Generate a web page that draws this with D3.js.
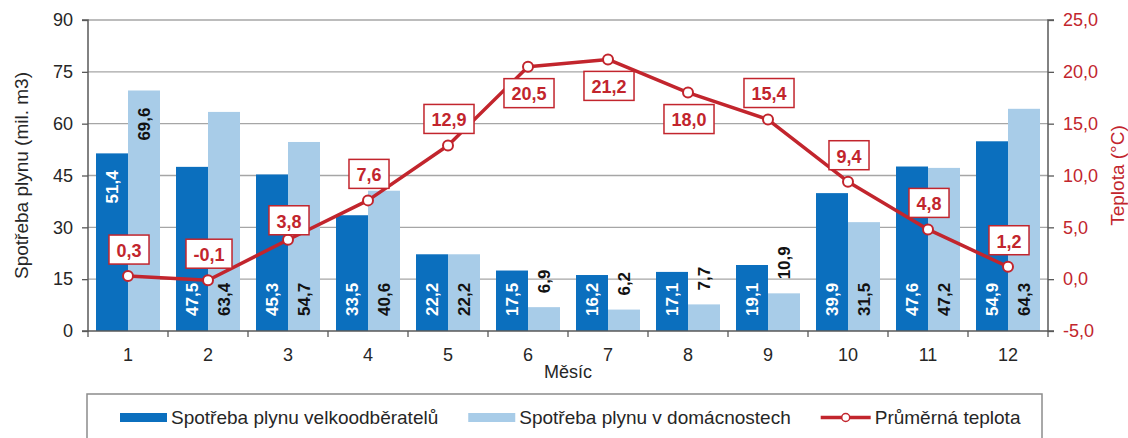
<!DOCTYPE html>
<html>
<head>
<meta charset="utf-8">
<script src="https://cdn.jsdelivr.net/npm/d3@7"></script>
<style>
  html, body { margin: 0; padding: 0; background: #fff; }
  svg { display: block; font-family: "Liberation Sans", Arial, sans-serif; }
</style>
</head>
<body>
<svg id="chart" width="1128" height="438"></svg>
<script>
// ---- data ----
const months = ["1", "2", "3", "4", "5", "6", "7", "8", "9", "10", "11", "12"];
const bulkGas = [51.4, 47.5, 45.3, 33.5, 22.2, 17.5, 16.2, 17.1, 19.1, 39.9, 47.6, 54.9];
const householdGas = [69.6, 63.4, 54.7, 40.6, 22.2, 6.9, 6.2, 7.7, 10.9, 31.5, 47.2, 64.3];
const avgTemp = [0.3, -0.1, 3.8, 7.6, 12.9, 20.5, 21.2, 18.0, 15.4, 9.4, 4.8, 1.2];
const gasTicks = [0, 15, 30, 45, 60, 75, 90];
const tempTicks = [-5, 0, 5, 10, 15, 20, 25];
const seriesNames = ["Spotřeba plynu velkoodběratelů", "Spotřeba plynu v domácnostech", "Průměrná teplota"];
const yTitle = "Spotřeba plynu (mil. m3)";
const y2Title = "Teplota (°C)";
const xTitle = "Měsíc";

// ---- styles ----
const C_DARK = "#0B6FBE";
const C_LIGHT = "#A8CCE8";
const C_RED = "#C2252D";
const C_GRID = "#A6A6A6";
const C_AXIS = "#595959";
const FONT = "'Liberation Sans', Arial, sans-serif";

const W = 1128, H = 438;
const m = { left: 88, right: 80, top: 20, bottom: 107 };
const plotL = m.left, plotR = W - m.right, plotT = m.top, plotB = H - m.bottom;

const svg = d3.select("#chart");
const fmt = v => d3.format(".1f")(v).replace(".", ",").replace("\u2212", "-");
const fmt0 = v => d3.format("d")(v);

const x = d3.scaleBand().domain(months).range([plotL, plotR]).paddingInner(0.2).paddingOuter(0.1);
const xs = d3.scaleBand().domain([0, 1]).range([0, x.bandwidth()]);
const y = d3.scaleLinear().domain([0, 90]).range([plotB, plotT]);
const y2 = d3.scaleLinear().domain([-5, 25]).range([plotB, plotT]);
const cx = mo => x(mo) + x.bandwidth() / 2;

// gridlines
svg.append("g").selectAll("line").data(gasTicks.filter(t => t > 0)).join("line")
  .attr("x1", plotL).attr("x2", plotR)
  .attr("y1", d => y(d)).attr("y2", d => y(d))
  .attr("stroke", C_GRID).attr("stroke-width", 1.3);

// bars
const series = [bulkGas, householdGas];
const colors = [C_DARK, C_LIGHT];
series.forEach((vals, si) => {
  svg.append("g").selectAll("rect").data(months).join("rect")
    .attr("x", (mo) => x(mo) + xs(si))
    .attr("width", xs.bandwidth())
    .attr("y", (mo, i) => y(vals[i]))
    .attr("height", (mo, i) => plotB - y(vals[i]))
    .attr("fill", colors[si]);
});

// bar labels (rotated)
series.forEach((vals, si) => {
  svg.append("g").selectAll("text").data(months).join("text")
    .attr("transform", (mo, i) => {
      const px = x(mo) + xs(si) + xs.bandwidth() / 2;
      const v = vals[i];
      let py;
      if (v < 12) { py = y(v) - 14; }          // outside end
      else if (i === 0) { py = y(v) + 17; }    // inside end
      else { py = plotB - 15; }                // inside base
      return `translate(${px},${py}) rotate(-90)`;
    })
    .attr("text-anchor", (mo, i) => (vals[i] >= 12 && i === 0) ? "end" : "start")
    .attr("dy", "0.35em")
    .attr("font-size", 17).attr("font-weight", "bold")
    .attr("fill", si === 0 ? "#ffffff" : "#111111")
    .text((mo, i) => fmt(vals[i]));
});

// axes
const axL = svg.append("g").attr("transform", `translate(${plotL},0)`)
  .call(d3.axisLeft(y).tickValues(gasTicks).tickSize(6).tickPadding(9).tickFormat(fmt0));
const axR = svg.append("g").attr("transform", `translate(${plotR},0)`)
  .call(d3.axisRight(y2).tickValues(tempTicks).tickSize(6).tickPadding(9).tickFormat(fmt));
const axB = svg.append("g").attr("transform", `translate(0,${plotB})`)
  .call(d3.axisBottom(x).tickSize(0).tickPadding(17));
// bottom ticks at band boundaries
svg.append("g").selectAll("line").data(d3.range(months.length + 1)).join("line")
  .attr("x1", i => plotL + i * x.step()).attr("x2", i => plotL + i * x.step())
  .attr("y1", plotB).attr("y2", plotB + 6)
  .attr("stroke", C_AXIS).attr("stroke-width", 1.3);

[axL, axR, axB].forEach(a => {
  a.select(".domain").attr("stroke", C_AXIS).attr("stroke-width", 1.5);
  a.selectAll(".tick line").attr("stroke", C_AXIS).attr("stroke-width", 1.3);
  a.selectAll("text").attr("font-size", 18).attr("font-family", FONT).attr("fill", "#262626");
});
axB.select(".domain").attr("d", `M${plotL},0H${plotR}`);
axL.select(".domain").attr("d", `M-6,${plotB}H0V${plotT}H-6`);
axR.select(".domain").attr("d", `M6,${plotB}H0V${plotT}H6`);
axR.selectAll("text").attr("fill", C_RED);

// temperature line
const pts = months.map((mo, i) => [cx(mo), y2(avgTemp[i])]);
svg.append("path").attr("d", d3.line()(pts))
  .attr("fill", "none").attr("stroke", C_RED).attr("stroke-width", 3.5).attr("stroke-linejoin", "round");
svg.append("g").selectAll("circle").data(pts).join("circle")
  .attr("cx", d => d[0]).attr("cy", d => d[1]).attr("r", 5)
  .attr("fill", "#fff").attr("stroke", C_RED).attr("stroke-width", 2);

// temperature labels
const below = new Set(["6", "7", "8"]);
const lblG = svg.append("g");
months.forEach((mo, i) => {
  const g = lblG.append("g");
  const t = g.append("text").attr("font-size", 18).attr("font-weight", "bold")
    .attr("fill", C_RED).attr("text-anchor", "middle").attr("dy", "0.35em").text(fmt(avgTemp[i]));
  const tw = t.node().getComputedTextLength();
  const bw = tw + 15, bh = 29;
  const px = cx(mo) + 1, py = y2(avgTemp[i]);
  const gap = (mo === "3") ? 5 : 12;
  const by = below.has(mo) ? py + gap : py - gap - bh;
  g.insert("rect", "text").attr("x", px - bw / 2).attr("y", by).attr("width", bw).attr("height", bh)
    .attr("fill", "#fff").attr("stroke", C_RED).attr("stroke-width", 1.5);
  t.attr("x", px).attr("y", by + bh / 2 + 1);
});

// axis titles
svg.append("text").attr("transform", `translate(21,${(plotT + plotB) / 2}) rotate(-90)`)
  .attr("text-anchor", "middle").attr("dy", "0.35em").attr("font-size", 19).attr("fill", "#262626").text(yTitle);
svg.append("text").attr("transform", `translate(1117,${(plotT + plotB) / 2}) rotate(-90)`)
  .attr("text-anchor", "middle").attr("dy", "0.35em").attr("font-size", 19).attr("fill", C_RED).text(y2Title);
svg.append("text").attr("x", (plotL + plotR) / 2).attr("y", 378)
  .attr("text-anchor", "middle").attr("font-size", 18).attr("fill", "#262626").text(xTitle);

// legend
svg.append("rect").attr("x", 87).attr("y", 394).attr("width", 955).attr("height", 60)
  .attr("fill", "#fff").attr("stroke", "#8c8c8c").attr("stroke-width", 1.5);
const leg = svg.append("g").attr("font-size", 19).attr("fill", "#262626");
let lx = 120;
seriesNames.forEach((name, i) => {
  if (i < 2) {
    leg.append("rect").attr("x", lx).attr("y", 413).attr("width", 47).attr("height", 9).attr("fill", colors[i]);
  } else {
    leg.append("line").attr("x1", lx).attr("x2", lx + 50).attr("y1", 417.5).attr("y2", 417.5)
      .attr("stroke", C_RED).attr("stroke-width", 3.5);
    leg.append("circle").attr("cx", lx + 25).attr("cy", 417.5).attr("r", 4)
      .attr("fill", "#fff").attr("stroke", C_RED).attr("stroke-width", 1.5);
  }
  const sw = i < 2 ? 47 : 50;
  const t = leg.append("text").attr("x", lx + sw + 4).attr("y", 417.5).attr("dy", "0.35em").text(name);
  lx = lx + sw + 4 + t.node().getComputedTextLength() + 30;
});
</script>
</body>
</html>
